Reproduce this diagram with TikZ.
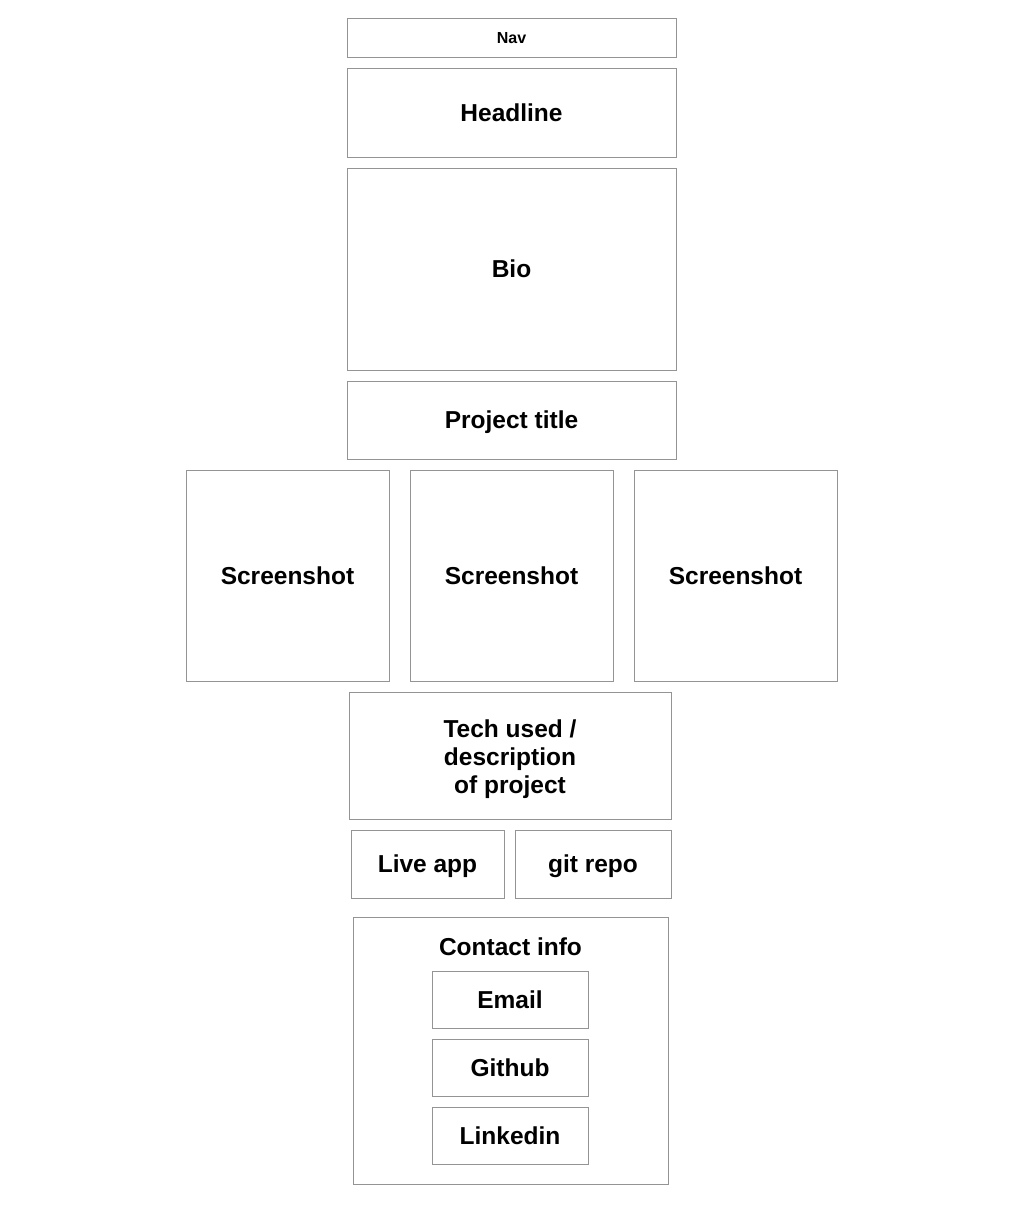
\documentclass[tikz,border=0pt]{standalone}
\usepackage{fontspec}
\setmainfont{Liberation Sans}
\usetikzlibrary{positioning}
\tikzset{
  wbox/.style={draw=black!42, line width=1pt, fill=white, inner sep=0pt, align=center,
    text depth=0pt, font=\bfseries\fontsize{24.5}{28}\selectfont},
  navbox/.style={wbox, font=\bfseries\fontsize{16}{19}\selectfont}
}
\begin{document}
\begin{tikzpicture}[x=1pt,y=-1pt]
\useasboundingbox[fill=white] (0,0) rectangle (1024,1208);
\node[navbox, minimum width=329pt, minimum height=39pt] (nav) at (511.5,37.5) {Nav};
\node[wbox, minimum width=329pt, minimum height=89pt] (headline) at (511.5,112.5) {Headline};
\node[wbox, minimum width=329pt, minimum height=202pt] (bio) at (511.5,269) {Bio};
\node[wbox, minimum width=329pt, minimum height=78pt] (title) at (511.5,420) {Project title};
\foreach \n/\cx in {shotA/287.5, shotB/511.5, shotC/735.5}
  \node[wbox, minimum width=203pt, minimum height=211pt] (\n) at (\cx,575.5) {Screenshot};
\node[wbox, minimum width=322pt, minimum height=127pt] (tech) at (510,755.5) {};
\node[font=\bfseries\fontsize{24.5}{28}\selectfont, align=center, inner sep=0pt] (techtext) at (510,759) {Tech used /\\description\\of project};
\node[wbox, minimum width=153pt, minimum height=68pt] (live) at (427.5,864) {Live app};
\node[wbox, minimum width=156pt, minimum height=68pt] (repo) at (593,864) {git repo};
\node[wbox, minimum width=315pt, minimum height=267pt] (contact) at (510.5,1050.5) {};
\node[font=\bfseries\fontsize{24.5}{28}\selectfont, below=18pt of contact.north] (contacttitle) {Contact info};
\node[wbox, minimum width=156pt, minimum height=57pt] (email) at (510,999.5) {Email};
\node[wbox, minimum width=156pt, minimum height=57pt, below=10pt of email] (github) {Github};
\node[wbox, minimum width=156pt, minimum height=57pt, below=10pt of github] (linkedin) {Linkedin};
\end{tikzpicture}
\end{document}
